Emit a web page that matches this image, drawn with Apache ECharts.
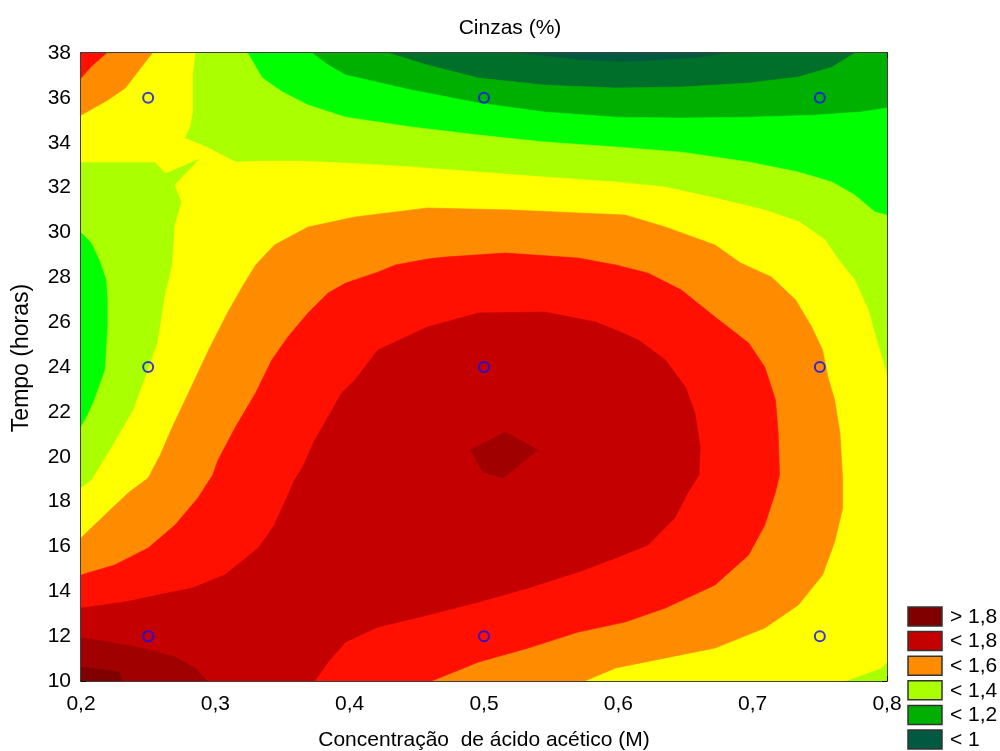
<!DOCTYPE html>
<html>
<head>
<meta charset="utf-8">
<script src="https://cdn.jsdelivr.net/npm/echarts@6/dist/echarts.min.js"></script>
<style>html,body{margin:0;padding:0;background:#fff;overflow:hidden}#c{width:1000px;height:751px}</style>
</head>
<body>
<div id="c"></div>
<script>
// ---- data ----
const concentrations = [0.25, 0.5, 0.75];
const times = [12, 24, 36];
const titleText = 'Cinzas (%)';
const xName = 'Concentração  de ácido acético (M)';
const yName = 'Tempo (horas)';
const legendLabels = ['> 1,8', '< 1,8', '< 1,6', '< 1,4', '< 1,2', '< 1'];
const legendBands = [10, 8, 6, 4, 2, 0];
const bandColors = ['#005a41', '#006f29', '#00b000', '#00ff00', '#aaff00', '#ffff00',
                    '#ff8c00', '#ff1000', '#c40000', '#a00000', '#800000'];

// contour regions (value >= band level), in data coordinates [concentration, hours]
const region0 = [[0.2,10],[0.2,38],[0.8,38],[0.8,10]];
const region1 = [[0.2,10],[0.2,38],[0.525,38],[0.570,37.69],[0.605,37.60],[0.635,37.69],[0.659,37.78],[0.682,38],[0.8,38],[0.8,10]];
const region2 = [[0.2,10],[0.2,38],[0.429,38],[0.458,37.46],[0.496,36.88],[0.545,36.57],[0.598,36.44],[0.647,36.48],[0.697,36.66],[0.734,36.93],[0.759,37.37],[0.776,38],[0.8,38],[0.8,10]];
const region3 = [[0.2,10],[0.2,38],[0.372,38],[0.384,37.46],[0.397,37.02],[0.446,36.35],[0.496,35.77],[0.545,35.37],[0.598,35.14],[0.647,35.10],[0.697,35.14],[0.746,35.23],[0.780,35.37],[0.8,35.55],[0.8,10]];
const region4 = [[0.2,10],[0.2,21.32],[0.205,21.86],[0.210,22.53],[0.218,23.87],[0.220,25.78],[0.220,26.99],[0.219,27.88],[0.214,28.77],[0.208,29.53],[0.2,30.02],[0.2,38],[0.324,38],[0.335,36.88],[0.350,36.26],[0.369,35.68],[0.397,35.14],[0.446,34.70],[0.496,34.34],[0.545,34.03],[0.598,33.81],[0.647,33.58],[0.697,33.14],[0.734,32.69],[0.759,32.25],[0.776,31.67],[0.791,30.91],[0.8,30.78],[0.8,10]];
const region5 = [[0.2,18.60],[0.208,18.96],[0.223,20.43],[0.239,22.08],[0.250,23.87],[0.257,25.07],[0.263,27.30],[0.268,28.55],[0.270,30.33],[0.275,31.36],[0.270,32.11],[0.289,33.32],[0.263,32.65],[0.255,33.14],[0.2,33.14],[0.2,38],[0.285,38],[0.283,37.02],[0.283,35.37],[0.281,34.70],[0.277,34.21],[0.295,33.76],[0.315,33.14],[0.335,33.18],[0.363,33.18],[0.397,33.09],[0.446,32.92],[0.496,32.69],[0.545,32.47],[0.598,32.25],[0.635,32.02],[0.672,31.53],[0.709,31.00],[0.735,30.46],[0.754,29.66],[0.764,28.77],[0.776,27.88],[0.786,26.54],[0.793,25.07],[0.799,23.87],[0.8,23.51],[0.8,10.85],[0.796,10.58],[0.769,10],[0.2,10]];
const region6a = [[0.2,38],[0.253,38],[0.233,36.44],[0.220,35.90],[0.2,35.23]];
const region6b = [[0.2,10],[0.2,16.38],[0.220,17.53],[0.236,18.43],[0.250,19.05],[0.259,20.08],[0.268,21.32],[0.280,22.84],[0.295,24.76],[0.309,26.41],[0.320,27.57],[0.330,28.55],[0.344,29.44],[0.369,30.24],[0.404,30.69],[0.458,31.09],[0.521,31.00],[0.570,30.87],[0.605,30.78],[0.635,30.24],[0.672,29.44],[0.691,28.64],[0.714,28.01],[0.732,26.99],[0.744,25.78],[0.752,24.76],[0.756,23.55],[0.761,22.53],[0.765,21.06],[0.767,18.96],[0.767,17.71],[0.761,16.20],[0.752,14.73],[0.734,13.39],[0.709,12.36],[0.672,11.47],[0.635,11.03],[0.598,10.58],[0.575,10]];
const region7a = [[0.2,38],[0.219,38],[0.208,37.42],[0.2,36.88]];
const region7b = [[0.2,10],[0.2,14.73],[0.225,15.17],[0.250,15.93],[0.270,16.95],[0.287,18.16],[0.298,19.18],[0.302,19.85],[0.315,21.32],[0.330,22.84],[0.342,24.31],[0.354,25.34],[0.369,26.41],[0.384,27.30],[0.397,27.74],[0.421,28.23],[0.434,28.55],[0.458,28.81],[0.471,28.90],[0.516,29.08],[0.570,28.86],[0.598,28.55],[0.622,28.19],[0.647,27.43],[0.672,26.23],[0.697,25.07],[0.709,24.00],[0.717,22.53],[0.719,21.06],[0.720,19.18],[0.717,18.43],[0.709,16.95],[0.697,15.62],[0.672,14.28],[0.635,13.25],[0.605,12.63],[0.570,12.18],[0.533,11.47],[0.496,10.85],[0.461,10]];
const region8 = [[0.2,10],[0.2,13.25],[0.233,13.52],[0.257,13.83],[0.283,14.15],[0.307,14.73],[0.332,15.93],[0.344,16.95],[0.354,18.29],[0.359,18.96],[0.365,19.54],[0.374,20.74],[0.384,21.77],[0.394,22.84],[0.404,23.42],[0.421,24.76],[0.458,25.78],[0.496,26.41],[0.545,26.45],[0.583,26.01],[0.598,25.65],[0.615,25.20],[0.635,24.31],[0.650,23.11],[0.657,21.95],[0.661,20.43],[0.660,19.18],[0.652,18.43],[0.642,17.27],[0.622,16.06],[0.598,15.48],[0.570,14.86],[0.533,14.15],[0.496,13.52],[0.458,12.94],[0.421,12.41],[0.397,11.74],[0.384,10.85],[0.374,10]];
const region9a = [[0.2,11.92],[0.220,11.74],[0.245,11.47],[0.270,11.07],[0.285,10.58],[0.294,10],[0.2,10]];
const region9b = [[0.516,21.10],[0.540,20.30],[0.514,19.05],[0.499,19.32],[0.490,20.30]];
const region10 = [[0.2,10.62],[0.228,10.40],[0.231,10],[0.2,10]];

const regions = [
  {band:0, pts:region0}, {band:1, pts:region1}, {band:2, pts:region2}, {band:3, pts:region3},
  {band:4, pts:region4}, {band:5, pts:region5}, {band:6, pts:region6a}, {band:6, pts:region6b},
  {band:7, pts:region7a}, {band:7, pts:region7b}, {band:8, pts:region8},
  {band:9, pts:region9a}, {band:9, pts:region9b}, {band:10, pts:region10}
];

const designPoints = [];
times.forEach(t => concentrations.forEach(c => designPoints.push([c, t])));

// ---- chart ----
const FONT = '"Liberation Sans", Arial, sans-serif';
const chart = echarts.init(document.getElementById('c'), null, {renderer: 'canvas', width: 1000, height: 751});
const fmtNum = v => (Math.round(v * 10) / 10).toString().replace('.', ',');
const tickCommon = {inside: true, length: 5, lineStyle: {color: '#000', width: 1}};
const lineCommon = {show: true, onZero: false, lineStyle: {color: '#000', width: 1.5}};

const legendGraphics = [];
legendLabels.forEach((lab, i) => {
  const y0 = 607 + i * 24.6;
  legendGraphics.push({type: 'rect', shape: {x: 908, y: y0, width: 34, height: 19},
    style: {fill: bandColors[legendBands[i]], stroke: '#333', lineWidth: 1.5}});
  legendGraphics.push({type: 'text', x: 950, y: y0 + 10,
    style: {text: lab, font: '21px ' + FONT, fill: '#000', textAlign: 'left', textVerticalAlign: 'middle'}});
});

chart.setOption({
  animation: false,
  backgroundColor: '#fff',
  grid: {left: 81, right: 113, top: 53, bottom: 70, containLabel: false, outerBoundsMode: 'none'},
  graphic: [
    {type: 'text', x: 510, y: 28, style: {text: titleText, font: '21px ' + FONT, fill: '#000', textAlign: 'center', textVerticalAlign: 'middle'}}
  ].concat(legendGraphics),
  xAxis: [
    {type: 'value', position: 'bottom', min: 0.2, max: 0.8, interval: 0.1,
     axisLine: lineCommon, axisTick: tickCommon, splitLine: {show: false},
     axisLabel: {formatter: fmtNum, fontSize: 21, fontFamily: FONT, color: '#000', margin: 13},
     name: xName, nameLocation: 'middle', nameGap: 49,
     nameTextStyle: {fontSize: 21, fontFamily: FONT, color: '#000'}},
    {type: 'value', position: 'top', min: 0.2, max: 0.8, interval: 0.1,
     axisLine: lineCommon, axisTick: tickCommon, splitLine: {show: false}, axisLabel: {show: false}}
  ],
  yAxis: [
    {type: 'value', position: 'left', min: 10, max: 38, interval: 2,
     axisLine: lineCommon, axisTick: tickCommon, splitLine: {show: false},
     axisLabel: {fontSize: 21, fontFamily: FONT, color: '#000', margin: 10},
     name: yName, nameLocation: 'middle', nameGap: 48, nameRotate: 90,
     nameTextStyle: {fontSize: 23, fontFamily: FONT, color: '#000', padding: [0, 0, 0, 18]}},
    {type: 'value', position: 'right', min: 10, max: 38, interval: 2,
     axisLine: lineCommon, axisTick: tickCommon, splitLine: {show: false}, axisLabel: {show: false}}
  ],
  series: [
    {type: 'custom', coordinateSystem: 'cartesian2d', xAxisIndex: 0, yAxisIndex: 0, clip: true, silent: true, z: 1,
     data: regions.map(r => r.pts[0]),
     renderItem: function (params, api) {
       const r = regions[params.dataIndex];
       const c = bandColors[r.band];
       return {type: 'polygon', shape: {points: r.pts.map(p => api.coord(p))},
               style: {fill: c, stroke: c, lineWidth: 0.6}};
     }},
    {type: 'scatter', xAxisIndex: 0, yAxisIndex: 0, z: 5, silent: true,
     data: designPoints, symbol: 'circle', symbolSize: 10,
     itemStyle: {color: 'rgba(0,0,0,0)', borderColor: '#0a0aff', borderWidth: 2}}
  ]
});
</script>
</body>
</html>
